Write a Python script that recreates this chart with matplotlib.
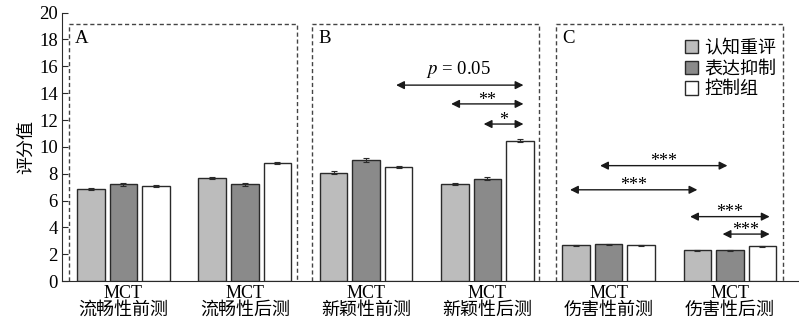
import numpy as np
import matplotlib
matplotlib.use("Agg")
import matplotlib.pyplot as plt

plt.rcParams['font.family'] = ['Liberation Serif', 'Noto Sans CJK SC']
plt.rcParams['mathtext.fontset'] = 'stix'
plt.rcParams['axes.unicode_minus'] = False

# data
groups = ["MCT\n流畅性前测", "MCT\n流畅性后测", "MCT\n新颖性前测",
          "MCT\n新颖性后测", "MCT\n伤害性前测", "MCT\n伤害性后测"]
series = ["认知重评", "表达抑制", "控制组"]
reappraisal = [6.86, 7.67, 8.07, 7.23, 2.66, 2.29]
suppression = [7.20, 7.20, 9.02, 7.62, 2.73, 2.29]
control = [7.08, 8.79, 8.50, 10.45, 2.66, 2.59]
err_reappraisal = [0.08, 0.08, 0.10, 0.09, 0.03, 0.03]
err_suppression = [0.10, 0.08, 0.12, 0.10, 0.03, 0.03]
err_control = [0.08, 0.08, 0.09, 0.12, 0.03, 0.03]
panel_labels = ["A", "B", "C"]

colors = ["#bcbcbc", "#8a8a8a", "#ffffff"]
edge = "#2a2a2a"

fig = plt.figure(figsize=(7.99, 3.33), dpi=100)
ax = fig.add_axes([0.0776, 0.156, 0.9224, 0.806])

x = np.arange(len(groups))
off = 0.268
w = 0.227
vals = [reappraisal, suppression, control]
errs = [err_reappraisal, err_suppression, err_control]
for k in range(3):
    ax.bar(x + (k - 1) * off, vals[k], w, yerr=errs[k], color=colors[k],
           edgecolor=edge, linewidth=1.0, label=series[k],
           error_kw=dict(ecolor=edge, elinewidth=0.8, capsize=2, capthick=0.8),
           zorder=3)

ax.set_xlim(-0.507, 5.57)
ax.set_ylim(0, 20)
ax.set_yticks(np.arange(0, 21, 2))
ax.set_xticks(x)
ax.set_xticklabels(groups, fontsize=13, linespacing=1.0)
ax.tick_params(axis='x', length=0, pad=3)
ax.tick_params(axis='y', direction='in', length=4, labelsize=13.5, pad=3, color=edge)
ax.spines['top'].set_visible(False)
ax.spines['right'].set_visible(False)
ax.spines['left'].set_color(edge)
ax.spines['bottom'].set_color(edge)
ax.set_ylabel("评分值", fontsize=13, labelpad=3)

# dashed panel boxes
boxes = [(-0.449, 1.43), (1.554, 3.425), (3.566, 5.437)]
for (l, r), lab in zip(boxes, panel_labels):
    ax.plot([l, l, r, r], [0, 19.15, 19.15, 0], ls=(0, (3, 2)), color="#444444",
            lw=1.0, zorder=2, clip_on=False)
    ax.text(l + 0.05, 18.1, lab, fontsize=13.5, va='center', ha='left')


def arrow(x0, x1, y, label, ty):
    ax.annotate("", xy=(x1, y), xytext=(x0, y),
                arrowprops=dict(arrowstyle="<|-|>", color="#1a1a1a", lw=1.0,
                                mutation_scale=12, shrinkA=0, shrinkB=0))
    ax.text((x0 + x1) / 2, ty, label, ha='center', va='bottom', fontsize=13)


b = lambda g, k: g + (k - 1) * off
arrow(b(2, 2) - 0.02, b(3, 2) + 0.03, 14.6, "", 0)
ax.text(2.76, 14.95, r"$p$ = 0.05", ha='center', va='bottom', fontsize=13.5)
arrow(b(3, 0) - 0.03, b(3, 2) + 0.03, 13.2, "**", 12.8)
arrow(b(3, 1) - 0.03, b(3, 2) + 0.03, 11.7, "*", 11.3)
arrow(b(4, 1) - 0.07, b(5, 1) - 0.02, 8.6, "***", 8.25)
arrow(b(4, 0) - 0.05, b(5, 0) + 0.0, 6.8, "***", 6.45)
arrow(b(5, 0) - 0.06, b(5, 2) + 0.06, 4.8, "***", 4.45)
arrow(b(5, 1) - 0.06, b(5, 2) + 0.06, 3.5, "***", 3.15)

leg = ax.legend(loc='upper left', bbox_to_anchor=(0.835, 0.925), frameon=False,
                fontsize=13, handlelength=0.75, handleheight=0.75,
                handletextpad=0.35, labelspacing=0.2, borderaxespad=0)

fig.savefig("out.png", dpi=100)
